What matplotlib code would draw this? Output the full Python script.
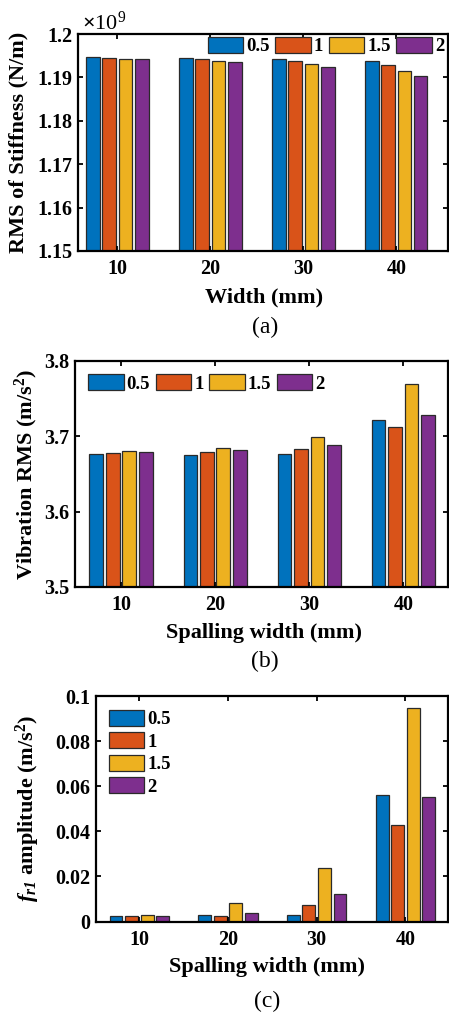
import matplotlib
matplotlib.use('Agg')
import matplotlib.pyplot as plt
from matplotlib.ticker import FuncFormatter

plt.rcParams['font.family'] = 'Liberation Serif'
plt.rcParams['font.weight'] = 'bold'
plt.rcParams['axes.labelweight'] = 'bold'
plt.rcParams['mathtext.fontset'] = 'custom'
plt.rcParams['mathtext.rm'] = 'Liberation Serif'
plt.rcParams['mathtext.bf'] = 'Liberation Serif:bold'
plt.rcParams['mathtext.it'] = 'Liberation Serif:italic'
plt.rcParams['mathtext.bfit'] = 'Liberation Serif:italic:bold'

# spalling width (mm) and depth groups
larguras = [10, 20, 30, 40]
profund = ['0.5', '1', '1.5', '2']
cores = ['#0072BD', '#D95319', '#EDB120', '#7E2F8E']

# (a) RMS of stiffness, x1e9 N/m
rig_05 = [1.19463, 1.19440, 1.19416, 1.19378]
rig_1 = [1.19447, 1.19416, 1.19370, 1.19286]
rig_15 = [1.19431, 1.19385, 1.19316, 1.19155]
rig_2 = [1.19424, 1.19355, 1.19247, 1.19032]

# (b) vibration RMS, m/s^2
vib_05 = [3.6767, 3.6754, 3.6772, 3.7211]
vib_1 = [3.6780, 3.6790, 3.6834, 3.7127]
vib_15 = [3.6807, 3.6847, 3.6985, 3.7690]
vib_2 = [3.6790, 3.6812, 3.6883, 3.7278]

# (c) fr1 amplitude, m/s^2
amp_05 = [0.0023, 0.0030, 0.0027, 0.0562]
amp_1 = [0.0023, 0.0023, 0.0073, 0.0427]
amp_15 = [0.0027, 0.0081, 0.0237, 0.0947]
amp_2 = [0.0023, 0.0036, 0.0123, 0.0551]

W, H = 449, 1014
fig = plt.figure(figsize=(W/100, H/100), dpi=100)


def eixo(esq, dir, topo, base):
    return fig.add_axes([esq/W, 1 - base/H, (dir - esq)/W, (base - topo)/H])


def barras(ax, dados):
    slot = 1.75
    for i, vals in enumerate(dados):
        xs = [x + (i - 1.5)*slot for x in larguras]
        ax.bar(xs, vals, width=1.46, color=cores[i], edgecolor='#2a2a2a',
               linewidth=0.9, label=profund[i])
    ax.set_xticks(larguras)
    ax.yaxis.set_major_formatter(FuncFormatter(lambda v, p: '%g' % round(v, 6)))
    ax.tick_params(direction='in', top=True, right=True, length=3.6, width=1.3,
                   labelsize=14.5)
    ax.tick_params(axis='x', pad=6)
    ax.tick_params(axis='y', pad=4)
    for s in ax.spines.values():
        s.set_linewidth(1.6)


leg_kw = dict(frameon=False, fontsize=13.5, handlelength=1.9, handleheight=0.93,
              handletextpad=0.15, borderpad=0, borderaxespad=0, loc='center left')

# (a)
ax1 = eixo(78, 448, 34, 251)
barras(ax1, [rig_05, rig_1, rig_15, rig_2])
ax1.set_xlim(5.77, 45.56)
ax1.set_ylim(1.15, 1.2)
ax1.set_yticks([1.15, 1.16, 1.17, 1.18, 1.19, 1.2])
ax1.set_ylabel('RMS of Stiffness (N/m)', fontsize=16, va='center')
ax1.yaxis.set_label_coords(-0.16, 0.5)
ax1.set_xlabel('Width (mm)', fontsize=16, va='center')
ax1.xaxis.set_label_coords(0.503, -0.212)
ax1.text(0.01, 1.018, r'$\times\mathregular{10^{9}}$', transform=ax1.transAxes,
         fontsize=16, fontweight='normal', va='baseline')
ax1.legend(ncol=4, columnspacing=0.3, bbox_to_anchor=(0.351, 0.945), **leg_kw)
fig.text(265/W, 1 - 327/H, '(a)', ha='center', va='center', fontsize=17,
         fontweight='normal')

# (b)
ax2 = eixo(75, 448, 361, 587)
barras(ax2, [vib_05, vib_1, vib_15, vib_2])
ax2.set_xlim(5.11, 44.75)
ax2.set_ylim(3.5, 3.8)
ax2.set_yticks([3.5, 3.6, 3.7, 3.8])
ax2.set_ylabel(r'Vibration RMS (m/s$^{\mathbf{2}}$)', fontsize=16, va='center')
ax2.yaxis.set_label_coords(-0.13, 0.5)
ax2.set_xlabel('Spalling width (mm)', fontsize=16, va='center')
ax2.xaxis.set_label_coords(0.508, -0.202)
ax2.legend(ncol=4, columnspacing=0.3, bbox_to_anchor=(0.035, 0.901), **leg_kw)
fig.text(265/W, 1 - 661.7/H, '(b)', ha='center', va='center', fontsize=17,
         fontweight='normal')

# (c)
ax3 = eixo(96, 448, 696, 921.5)
barras(ax3, [amp_05, amp_1, amp_15, amp_2])
ax3.set_xlim(5.12, 44.8)
ax3.set_ylim(0, 0.1)
ax3.set_yticks([0, 0.02, 0.04, 0.06, 0.08, 0.1])
ax3.set_ylabel(r'$\mathbfit{f_{r1}}$ amplitude (m/s$^{\mathbf{2}}$)', fontsize=16,
               va='center')
ax3.yaxis.set_label_coords(-0.193, 0.5)
ax3.set_xlabel('Spalling width (mm)', fontsize=16, va='center')
ax3.xaxis.set_label_coords(0.485, -0.20)
ax3.legend(ncol=1, labelspacing=0.22, bbox_to_anchor=(0.036, 0.748), **leg_kw)
fig.text(266.7/W, 1 - 1001.7/H, '(c)', ha='center', va='center', fontsize=17,
         fontweight='normal')

fig.savefig('out.png', dpi=100)
